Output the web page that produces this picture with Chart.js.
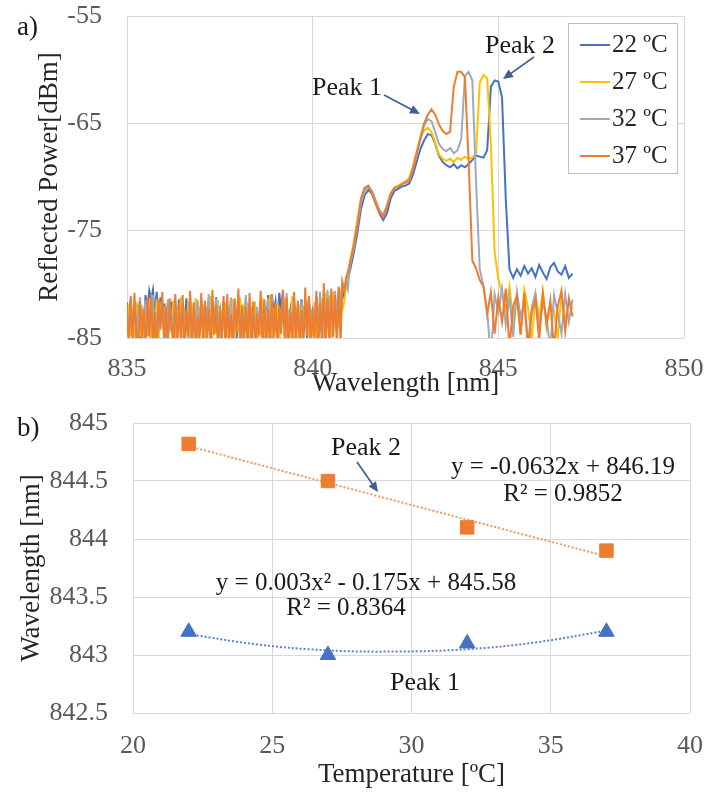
<!DOCTYPE html>
<html>
<head>
<meta charset="utf-8">
<script src="https://cdn.jsdelivr.net/npm/chart.js@4.4.1/dist/chart.umd.min.js"></script>
<style>
html,body{margin:0;padding:0;background:#ffffff;}
#wrap{position:relative;width:709px;height:794px;overflow:hidden;}
canvas{position:absolute;left:0;}
#ca{top:0;}
#cb{top:400px;}
</style>
</head>
<body>
<div id="wrap">
<canvas id="ca" width="709" height="400"></canvas>
<canvas id="cb" width="709" height="394"></canvas>
</div>
<script>
// ---------- Chart a) data : reflected spectra ----------
// 0.05 nm sampling over the noise floor, 0.1 nm over the grating band
const wavelength = [
835.00,835.05,835.10,835.15,835.20,835.25,835.30,835.35,835.40,835.45,
835.50,835.55,835.60,835.65,835.70,835.75,835.80,835.85,835.90,835.95,
836.00,836.05,836.10,836.15,836.20,836.25,836.30,836.35,836.40,836.45,
836.50,836.55,836.60,836.65,836.70,836.75,836.80,836.85,836.90,836.95,
837.00,837.05,837.10,837.15,837.20,837.25,837.30,837.35,837.40,837.45,
837.50,837.55,837.60,837.65,837.70,837.75,837.80,837.85,837.90,837.95,
838.00,838.05,838.10,838.15,838.20,838.25,838.30,838.35,838.40,838.45,
838.50,838.55,838.60,838.65,838.70,838.75,838.80,838.85,838.90,838.95,
839.00,839.05,839.10,839.15,839.20,839.25,839.30,839.35,839.40,839.45,
839.50,839.55,839.60,839.65,839.70,839.75,839.80,839.85,839.90,839.95,
840.00,840.05,840.10,840.15,840.20,840.25,840.30,840.35,840.40,840.45,
840.50,840.55,840.60,840.65,840.70,840.75,840.80,840.85,840.90,840.95,
841.0,841.1,841.2,841.3,841.4,841.5,841.6,841.7,841.8,841.9,
842.0,842.1,842.2,842.3,842.4,842.5,842.6,842.7,842.8,842.9,
843.0,843.1,843.2,843.3,843.4,843.5,843.6,843.7,843.8,843.9,
844.0,844.1,844.2,844.3,844.4,844.5,844.6,844.7,844.8,844.9,
845.0,845.1,845.2,845.3,845.4,845.5,845.6,845.7,845.8,845.9,
846.0,846.1,846.2,846.3,846.4,846.5,846.6,846.7,846.8,846.9,
847.0];

const power22 = [
-81.7,-83.0,-81.5,-84.6,-82.2,-83.4,-81.9,-85.1,-82.5,-83.8,
-81.0,-82.6,-80.6,-81.4,-80.5,-82.9,-80.7,-84.0,-81.2,-83.3,
-81.8,-84.4,-82.3,-83.1,-81.6,-85.2,-82.0,-83.7,-81.4,-84.8,
-82.6,-83.5,-81.3,-84.1,-82.8,-85.6,-81.7,-83.2,-82.1,-84.5,
-81.5,-83.9,-82.4,-85.0,-81.8,-83.6,-82.7,-84.2,-81.2,-83.0,
-82.3,-85.4,-81.6,-83.8,-82.0,-84.7,-81.4,-83.3,-82.5,-85.3,
-81.9,-83.6,-82.6,-84.4,-81.3,-83.1,-82.2,-85.5,-81.7,-84.0,
-82.8,-83.4,-81.5,-84.9,-82.1,-83.7,-81.0,-84.3,-80.9,-82.7,
-81.6,-83.9,-80.8,-82.4,-80.6,-84.1,-81.8,-83.5,-82.4,-85.0,
-81.9,-83.2,-82.7,-84.6,-81.4,-83.8,-82.0,-85.2,-81.6,-83.4,
-82.5,-84.3,-81.2,-83.6,-82.3,-85.1,-81.5,-83.0,-82.0,-84.7,
-81.3,-83.5,-81.8,-84.2,-80.9,-82.6,-80.4,-81.2,-80.0,-79.6,
-78.8,-77.2,-75.3,-73.0,-71.7,-71.2,-71.6,-72.5,-73.4,-74.0,
-73.4,-72.0,-71.3,-71.1,-70.9,-70.8,-70.6,-69.8,-68.6,-67.4,
-66.6,-66.0,-66.1,-66.9,-68.0,-68.6,-68.9,-69.1,-68.8,-69.2,
-68.9,-69.1,-68.8,-68.4,-68.0,-68.1,-68.2,-67.5,-61.6,-61.0,
-61.1,-62.6,-72.0,-78.6,-79.4,-78.6,-79.2,-78.3,-79.0,-78.5,
-79.3,-78.2,-78.9,-79.5,-78.4,-78.0,-78.8,-79.1,-78.3,-79.4,
-79.0];

const power27 = [
-83.5,-81.9,-84.8,-82.4,-85.6,-81.6,-83.2,-84.9,-82.0,-85.3,
-82.6,-84.1,-81.7,-85.5,-82.9,-84.3,-81.4,-85.8,-82.2,-83.6,
-84.7,-81.8,-85.2,-82.7,-84.0,-81.5,-85.9,-82.3,-83.8,-81.2,
-85.4,-82.8,-84.5,-81.6,-85.1,-82.5,-83.7,-81.3,-85.7,-82.1,
-84.2,-81.9,-85.5,-82.6,-83.4,-81.1,-85.0,-82.9,-84.6,-81.5,
-85.8,-82.3,-84.1,-81.7,-85.3,-82.0,-83.9,-81.4,-85.6,-82.7,
-84.4,-81.2,-85.2,-82.5,-83.6,-81.8,-85.9,-82.1,-84.3,-81.6,
-85.0,-82.9,-84.7,-81.3,-85.5,-82.4,-83.8,-81.0,-85.1,-82.2,
-84.5,-81.7,-85.7,-82.8,-83.5,-81.4,-85.3,-82.6,-84.0,-81.1,
-85.6,-82.3,-84.2,-81.9,-85.4,-82.0,-83.7,-81.5,-85.9,-82.5,
-84.8,-81.6,-85.1,-82.2,-83.9,-81.3,-85.5,-80.8,-84.1,-81.0,
-85.2,-80.7,-83.4,-81.6,-84.0,-80.4,-82.3,-81.7,-80.1,-79.5,
-78.0,-76.2,-74.0,-72.2,-71.2,-70.9,-71.4,-72.3,-73.1,-73.5,
-72.6,-71.5,-71.0,-70.8,-70.6,-70.4,-70.1,-69.0,-67.6,-66.4,
-65.7,-65.4,-65.8,-66.8,-67.9,-68.3,-68.5,-68.3,-68.6,-68.2,
-68.4,-68.1,-68.3,-68.2,-67.8,-61.2,-60.5,-60.8,-67.0,-77.0,
-79.5,-80.8,-82.4,-80.2,-83.5,-81.1,-84.6,-80.5,-82.2,-85.3,
-81.0,-83.1,-80.6,-84.0,-81.8,-82.5,-85.0,-80.9,-83.4,-81.6,
-82.3];

const power32 = [
-82.4,-84.6,-81.3,-83.9,-81.8,-85.4,-82.6,-81.2,-84.1,-82.9,
-81.5,-84.8,-82.2,-83.3,-81.0,-85.7,-82.7,-84.0,-81.6,-83.4,
-82.1,-85.1,-81.4,-84.4,-82.8,-83.6,-81.2,-85.3,-82.3,-84.2,
-81.7,-83.8,-82.5,-85.6,-81.1,-84.3,-82.9,-83.5,-81.5,-85.0,
-82.2,-84.7,-81.8,-83.2,-80.9,-85.4,-82.4,-84.0,-81.3,-83.7,
-82.6,-85.2,-81.6,-84.5,-82.0,-83.4,-81.2,-85.5,-82.8,-84.1,
-81.4,-83.9,-82.3,-85.8,-81.0,-84.6,-82.5,-83.3,-81.7,-85.1,
-82.1,-84.4,-81.5,-83.6,-82.9,-85.3,-81.3,-84.2,-82.4,-83.8,
-81.9,-85.6,-82.2,-84.1,-81.4,-83.5,-80.8,-85.0,-82.6,-84.7,
-81.2,-83.7,-82.0,-85.4,-81.6,-84.3,-82.7,-83.1,-81.5,-85.2,
-82.3,-84.0,-81.1,-83.6,-80.7,-85.5,-81.9,-84.2,-80.5,-83.4,
-81.6,-84.8,-80.6,-83.0,-80.3,-82.2,-79.9,-80.6,-79.6,-80.4,
-78.3,-76.8,-74.6,-72.4,-71.3,-70.9,-71.3,-72.2,-73.1,-73.6,
-72.7,-71.6,-71.0,-70.9,-70.7,-70.5,-70.3,-69.3,-67.9,-66.6,
-65.2,-64.6,-64.8,-65.8,-66.9,-67.4,-67.6,-67.3,-67.8,-67.5,
-66.5,-60.6,-60.2,-61.0,-70.5,-78.6,-80.2,-82.5,-87.0,-80.9,
-82.6,-80.4,-83.8,-81.2,-84.9,-80.7,-83.0,-81.9,-85.6,-82.1,
-80.8,-84.3,-81.5,-83.2,-86.0,-81.0,-82.7,-84.6,-80.9,-83.5,
-81.4];

const power37 = [
-82.0,-86.2,-81.1,-85.4,-80.8,-84.6,-86.1,-81.6,-85.0,-82.3,
-86.4,-81.2,-84.9,-80.9,-85.8,-82.6,-86.3,-81.4,-84.2,-80.7,
-85.5,-82.1,-86.0,-81.3,-83.9,-85.7,-80.9,-86.2,-81.8,-85.1,
-81.0,-86.5,-82.4,-84.8,-80.6,-85.9,-81.7,-86.0,-82.9,-85.3,
-80.8,-86.1,-81.5,-85.2,-82.2,-86.4,-80.5,-84.7,-81.9,-86.3,
-82.5,-85.0,-81.1,-86.2,-80.9,-85.6,-82.8,-86.0,-81.3,-84.4,
-80.4,-86.3,-81.9,-85.5,-82.1,-86.1,-80.8,-85.2,-81.6,-86.5,
-82.7,-84.9,-80.6,-86.0,-81.4,-85.8,-82.3,-86.2,-80.9,-85.1,
-81.8,-86.4,-82.0,-84.6,-80.5,-85.9,-81.2,-86.3,-82.6,-85.4,
-80.7,-86.0,-81.5,-85.7,-82.4,-86.2,-80.3,-84.8,-81.1,-86.1,
-82.2,-85.3,-80.6,-86.4,-81.7,-85.0,-79.9,-86.2,-81.3,-85.5,
-80.4,-84.9,-81.0,-85.8,-80.2,-85.7,-79.8,-80.6,-79.4,-78.8,
-78.0,-76.5,-74.5,-72.0,-71.0,-70.8,-71.5,-72.5,-73.3,-73.7,
-72.8,-71.6,-71.0,-70.9,-70.7,-70.5,-70.3,-69.2,-67.8,-66.3,
-65.0,-64.2,-63.7,-64.2,-65.1,-65.7,-66.0,-65.8,-61.6,-60.2,
-60.2,-60.7,-68.5,-77.8,-78.5,-79.6,-80.2,-82.8,-80.7,-84.6,
-81.2,-83.5,-80.4,-85.9,-82.0,-81.1,-84.7,-80.8,-86.3,-82.6,
-81.4,-85.2,-80.9,-83.7,-81.5,-86.1,-82.0,-80.6,-84.4,-81.3,
-83.0];

const seriesLabelsA = ['22 ºC', '27 ºC', '32 ºC', '37 ºC'];
const wavelengthTicks = [835, 840, 845, 850];
const powerTicks = [-85, -75, -65, -55];

// ---------- Chart b) data : peak wavelength vs temperature ----------
const temperature = [22, 27, 32, 37];
const peak2Wavelength = [844.82, 844.50, 844.10, 843.90];
const peak1Wavelength = [843.20, 843.00, 843.10, 843.20];
// trendlines as displayed (linear for peak 2, 2nd-order polynomial for peak 1)
const trend2Temp = [22, 37];
const trend2Wavelength = [844.80, 843.85];
const trend1Temp = [22, 24.5, 27, 29.5, 32, 34.5, 37];
const trend1Wavelength = [843.18, 843.09, 843.04, 843.03, 843.05, 843.11, 843.21];
const temperatureTicks = [20, 25, 30, 35, 40];
const wavelengthTicksB = [842.5, 843, 843.5, 844, 844.5, 845];

// ---------- styling ----------
const FAMILY = "'Liberation Serif','Times New Roman',serif";
const TICK_COLOR = '#595959';
const TITLE_COLOR = '#262626';
const GRID = '#d9d9d9';
const NOTICK = 'rgba(0,0,0,0)';
const colorsA = ['#4472C4', '#FFC000', '#9eaabd', '#ED7D31'];
const ARROW = '#3f5f94';

function pairs(xs, ys) { return xs.map((x, i) => ({x: x, y: ys[i]})); }

function drawArrow(ctx, x1, y1, x2, y2, color) {
  const ang = Math.atan2(y2 - y1, x2 - x1);
  const head = 10, half = 4.5;
  ctx.save();
  ctx.strokeStyle = color; ctx.fillStyle = color; ctx.lineWidth = 1.7;
  ctx.beginPath();
  ctx.moveTo(x1, y1);
  ctx.lineTo(x2 - Math.cos(ang) * head * 0.8, y2 - Math.sin(ang) * head * 0.8);
  ctx.stroke();
  ctx.beginPath();
  ctx.moveTo(x2, y2);
  ctx.lineTo(x2 - head * Math.cos(ang) + half * Math.sin(ang), y2 - head * Math.sin(ang) - half * Math.cos(ang));
  ctx.lineTo(x2 - head * Math.cos(ang) - half * Math.sin(ang), y2 - head * Math.sin(ang) + half * Math.cos(ang));
  ctx.closePath();
  ctx.fill();
  ctx.restore();
}

function fixedTicks(arr) {
  return function (scale) { scale.ticks = arr.map(v => ({value: v})); };
}

const annotA = {
  id: 'annotA',
  afterDatasetsDraw(chart) {
    const ctx = chart.ctx;
    ctx.save();
    ctx.fillStyle = '#1a1a1a';
    ctx.textBaseline = 'middle';
    ctx.font = '27px ' + FAMILY;
    ctx.textAlign = 'left';
    ctx.fillText('a)', 17, 28);
    ctx.font = '26px ' + FAMILY;
    ctx.textAlign = 'center';
    ctx.fillText('Peak 1', 347, 88);
    ctx.fillText('Peak 2', 520, 46);
    drawArrow(ctx, 384, 95, 420, 114, ARROW);
    drawArrow(ctx, 534, 57, 503, 79, ARROW);
    // legend
    const bx = 568, by = 23, bw = 109, bh = 150;
    ctx.fillStyle = '#ffffff';
    ctx.fillRect(bx, by, bw, bh);
    ctx.strokeStyle = '#bfbfbf';
    ctx.lineWidth = 1;
    ctx.strokeRect(bx + 0.5, by + 0.5, bw, bh);
    const rows = [45, 82, 119, 156];
    chart.data.datasets.forEach((ds, i) => {
      const y = rows[i];
      ctx.strokeStyle = ds.borderColor;
      ctx.lineWidth = 2;
      ctx.beginPath(); ctx.moveTo(580, y); ctx.lineTo(610, y); ctx.stroke();
      ctx.fillStyle = TITLE_COLOR;
      ctx.textAlign = 'left';
      ctx.font = '25px ' + FAMILY;
      ctx.fillText(ds.label, 612, y);
    });
    ctx.restore();
  }
};

const annotB = {
  id: 'annotB',
  afterDatasetsDraw(chart) {
    const ctx = chart.ctx;
    ctx.save();
    ctx.fillStyle = '#1a1a1a';
    ctx.textBaseline = 'middle';
    ctx.font = '27px ' + FAMILY;
    ctx.textAlign = 'left';
    ctx.fillText('b)', 17, 29);
    ctx.font = '26px ' + FAMILY;
    ctx.textAlign = 'center';
    ctx.fillText('Peak 2', 366, 48);
    drawArrow(ctx, 357, 62, 378, 92, ARROW);
    ctx.fillText('Peak 1', 425, 283);
    ctx.font = '25px ' + FAMILY;
    ctx.fillText('y = -0.0632x + 846.19', 563, 67);
    ctx.fillText('R² = 0.9852', 563, 94);
    ctx.fillText('y = 0.003x² - 0.175x + 845.58', 366, 183);
    ctx.fillText('R² = 0.8364', 346, 208);
    ctx.restore();
  }
};

const tickFont = {family: FAMILY, size: 26};
const titleFont = {family: FAMILY, size: 27};

new Chart(document.getElementById('ca'), {
  type: 'line',
  data: {
    datasets: [
      {label: seriesLabelsA[0], data: pairs(wavelength, power22), borderColor: colorsA[0], backgroundColor: colorsA[0], order: 3},
      {label: seriesLabelsA[1], data: pairs(wavelength, power27), borderColor: colorsA[1], backgroundColor: colorsA[1], order: 2},
      {label: seriesLabelsA[2], data: pairs(wavelength, power32), borderColor: colorsA[2], backgroundColor: colorsA[2], order: 1},
      {label: seriesLabelsA[3], data: pairs(wavelength, power37), borderColor: colorsA[3], backgroundColor: colorsA[3], order: 0}
    ]
  },
  options: {
    responsive: false,
    animation: false,
    layout: {padding: {left: 0, right: 25, top: 16, bottom: 0}},
    elements: {point: {radius: 0}, line: {borderWidth: 2, tension: 0}},
    plugins: {legend: {display: false}, tooltip: {enabled: false}},
    scales: {
      x: {
        type: 'linear', min: 835, max: 850,
        afterBuildTicks: fixedTicks(wavelengthTicks),
        afterFit(s) { s.height = 62; },
        ticks: {font: tickFont, color: TICK_COLOR, padding: 0, callback: v => String(v)},
        grid: {color: GRID, drawTicks: true, tickLength: 16, tickColor: NOTICK, lineWidth: 1},
        border: {display: false},
        title: {display: true, text: 'Wavelength [nm]', font: titleFont, color: TITLE_COLOR, padding: {top: 0, bottom: 0}}
      },
      y: {
        type: 'linear', min: -85, max: -55,
        afterBuildTicks: fixedTicks(powerTicks),
        afterFit(s) { s.width = 127; },
        ticks: {font: tickFont, color: TICK_COLOR, padding: 0, callback: v => String(v)},
        grid: {color: GRID, drawTicks: true, tickLength: 25, tickColor: NOTICK, lineWidth: 1},
        border: {display: false},
        title: {display: true, text: 'Reflected Power[dBm]', font: titleFont, color: TITLE_COLOR, padding: {top: 34, bottom: 0}}
      }
    }
  },
  plugins: [annotA]
});

new Chart(document.getElementById('cb'), {
  type: 'scatter',
  data: {
    datasets: [
      {label: 'Peak 2', data: pairs(temperature, peak2Wavelength), pointStyle: 'rect', pointRadius: 9.5,
       backgroundColor: '#ED7D31', borderColor: '#ED7D31', borderWidth: 1, order: 0},
      {label: 'Peak 1', data: pairs(temperature, peak1Wavelength), pointStyle: 'triangle', pointRadius: 9,
       backgroundColor: '#4472C4', borderColor: '#4472C4', borderWidth: 1, order: 0},
      {label: 'Linear (Peak 2)', data: pairs(trend2Temp, trend2Wavelength), showLine: true, pointRadius: 0,
       borderColor: '#F0995E', borderWidth: 2, borderDash: [2, 2], order: 1},
      {label: 'Poly. (Peak 1)', data: pairs(trend1Temp, trend1Wavelength), showLine: true, pointRadius: 0, tension: 0.4,
       borderColor: '#5b82cc', borderWidth: 2, borderDash: [2, 2], order: 1}
    ]
  },
  options: {
    responsive: false,
    animation: false,
    layout: {padding: {left: 0, right: 19, top: 23, bottom: 0}},
    plugins: {legend: {display: false}, tooltip: {enabled: false}},
    scales: {
      x: {
        type: 'linear', min: 20, max: 40,
        afterBuildTicks: fixedTicks(temperatureTicks),
        afterFit(s) { s.height = 81; },
        ticks: {font: tickFont, color: TICK_COLOR, padding: 0, callback: v => String(v)},
        grid: {color: GRID, drawTicks: true, tickLength: 18, tickColor: NOTICK, lineWidth: 1},
        border: {display: false},
        title: {display: true, text: 'Temperature [ºC]', font: titleFont, color: TITLE_COLOR, padding: {top: 0, bottom: 3}}
      },
      y: {
        type: 'linear', min: 842.5, max: 845,
        afterBuildTicks: fixedTicks(wavelengthTicksB),
        afterFit(s) { s.width = 133; },
        ticks: {font: tickFont, color: TICK_COLOR, padding: 0, callback: v => String(v)},
        grid: {color: GRID, drawTicks: true, tickLength: 25, tickColor: NOTICK, lineWidth: 1},
        border: {display: false},
        title: {display: true, text: 'Wavelength [nm]', font: titleFont, color: TITLE_COLOR, padding: {top: 16, bottom: 0}}
      }
    }
  },
  plugins: [annotB]
});
</script>
</body>
</html>
